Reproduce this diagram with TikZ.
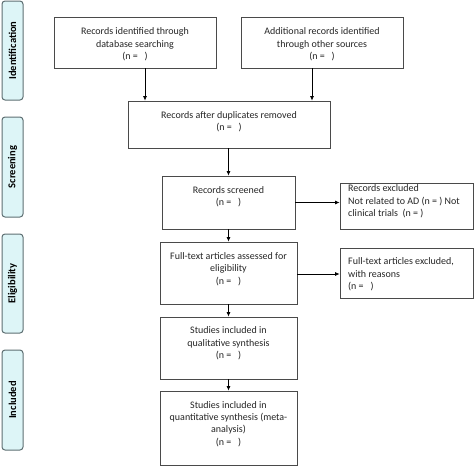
\documentclass[tikz,border=0pt]{standalone}
\usepackage{fontspec}
\setmainfont{Carlito}
\usetikzlibrary{arrows.meta}
\definecolor{boxline}{HTML}{4A4A4A}
\definecolor{tagfill}{HTML}{DDF5F7}
\definecolor{tagline}{HTML}{5E6F72}
\tikzset{
  box/.style={draw=boxline, line width=0.8pt, inner sep=0pt, fill=white},
  txt/.style={align=center, inner sep=0pt, text=black!85, font=\fontsize{10}{12.4}\selectfont},
  ltxt/.style={align=left, inner sep=0pt, anchor=west, text=black!85, font=\fontsize{10}{12.4}\selectfont},
  tag/.style={draw=tagline, fill=tagfill, line width=1pt, rounded corners=3pt, minimum width=21pt, inner sep=0pt},
  tagtxt/.style={rotate=90, font=\fontsize{10.5}{12}\selectfont\bfseries, inner sep=0pt},
  arr/.style={draw=black, line width=0.7pt, -{Latex[length=4.5pt,width=4pt]}}
}
\begin{document}
\begin{tikzpicture}[x=1pt,y=-1pt]
\useasboundingbox (0,0) rectangle (474,467);
% side tags
\node[tag, minimum height=99pt] (t1) at (12.5,50.5) {};
\node[tagtxt] (t1l) at (t1.center) {Identification};
\node[tag, minimum height=100pt] (t2) at (12.5,167) {};
\node[tagtxt] (t2l) at (t2.center) {Screening};
\node[tag, minimum height=99pt] (t3) at (12.5,283.5) {};
\node[tagtxt] (t3l) at (t3.center) {Eligibility};
\node[tag, minimum height=100pt] (t4) at (12.5,400) {};
\node[tagtxt] (t4l) at (t4.center) {Included};
% boxes
\node[box, minimum width=162pt, minimum height=51pt] (a) at (135,42.5) {};
\node[txt] (at) at (135,44.5) {Records identified through\\database searching\\(n =~~~)};
\node[box, minimum width=162pt, minimum height=51pt] (b) at (322,42.5) {};
\node[txt] (bt) at (322,44.5) {Additional records identified\\through other sources\\(n =~~~)};
\node[box, minimum width=202pt, minimum height=47pt] (c) at (229,124.5) {};
\node[txt] (ct) at (229,122) {Records after duplicates removed\\(n =~~~)};
\node[box, minimum width=133pt, minimum height=53pt] (d) at (228.5,202.5) {};
\node[txt] (dt) at (228.5,196.5) {Records screened\\(n =~~~)};
\node[box, minimum width=133pt, minimum height=46pt] (e) at (406.5,206) {};
\node[ltxt] (et) at (348,201.5) {Records excluded\\Not related to AD (n = ) Not\\clinical trials~ (n = )};
\node[box, minimum width=137pt, minimum height=62pt] (f) at (228.5,273) {};
\node[txt] (ft) at (228.5,269) {Full-text articles assessed for\\eligibility\\(n =~~~)};
\node[box, minimum width=133pt, minimum height=50pt] (g) at (406.5,273) {};
\node[ltxt] (gt) at (348,274.5) {Full-text articles excluded,\\with reasons\\(n =~~~)};
\node[box, minimum width=137pt, minimum height=62pt] (h) at (228.5,348) {};
\node[txt] (ht) at (228.5,343.5) {Studies included in\\qualitative synthesis\\(n =~~~)};
\node[box, minimum width=137pt, minimum height=74pt] (i) at (228.5,428) {};
\node[txt] (it) at (228.5,424) {Studies included in\\quantitative synthesis (meta-\\analysis)\\(n =~~~)};
% connectors
\draw[arr] ([xshift=10pt]a.south) -- ([xshift=10pt]a.south |- c.north);
\draw[arr] ([xshift=-10pt]b.south) -- ([xshift=-10pt]b.south |- c.north);
\draw[arr] ([xshift=-0.5pt]c.south) -- (d.north);
\draw[arr] (d.south) -- (f.north);
\draw[arr] (f.south) -- (h.north);
\draw[arr] (h.south) -- (i.north);
\draw[arr] (d.east) -- (d.east -| e.west);
\draw[arr] ([yshift=-1pt]f.east) -- ([yshift=-1pt]f.east -| g.west);
\end{tikzpicture}
\end{document}
